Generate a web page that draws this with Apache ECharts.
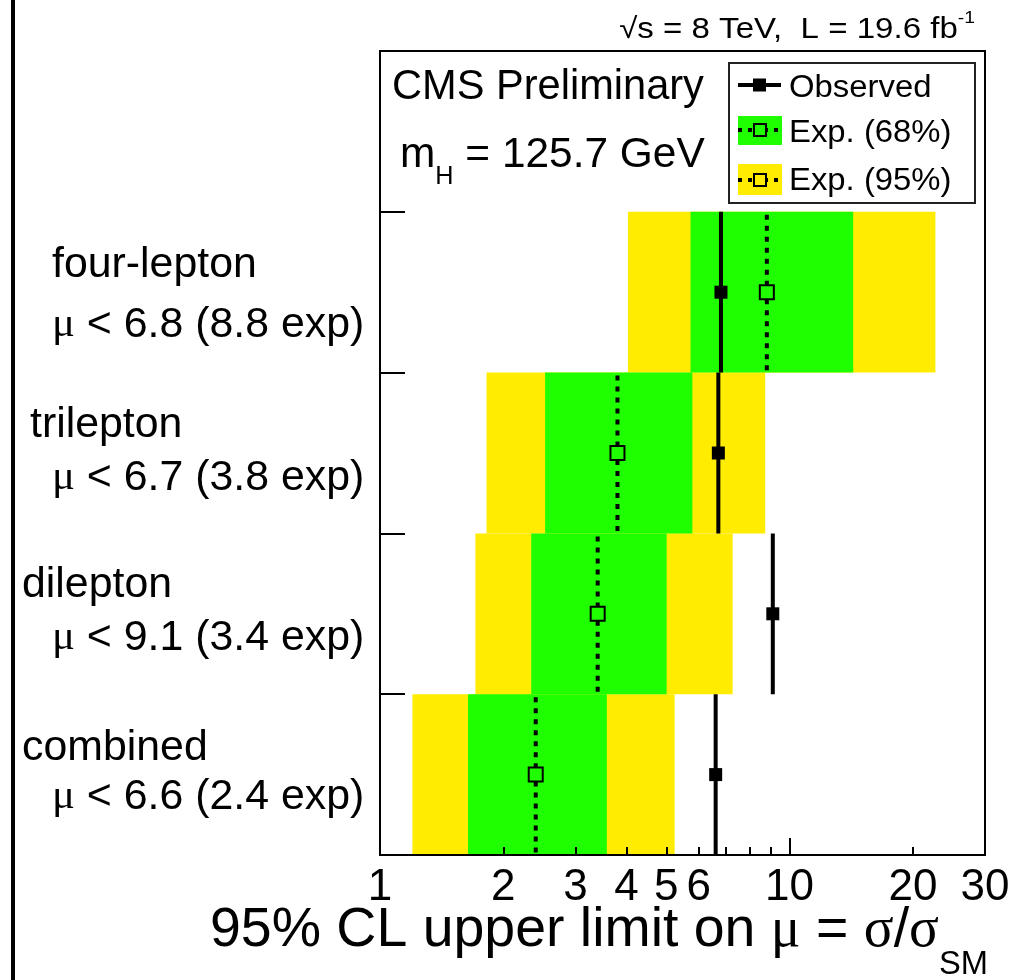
<!DOCTYPE html>
<html>
<head>
<meta charset="utf-8">
<title>95% CL upper limits on mu</title>
<script src="https://cdn.jsdelivr.net/npm/echarts@6/dist/echarts.min.js"></script>
<style>
  html, body { margin: 0; padding: 0; background: #fff; }
  #chart { width: 1027px; height: 980px; }
</style>
</head>
<body>
<div id="chart"></div>
<script>
// channels, top to bottom
const channels = ['four-lepton', 'trilepton', 'dilepton', 'combined'];
const observed = [6.8, 6.7, 9.1, 6.6];
const expected = [8.8, 3.8, 3.4, 2.4];
const exp68Lo = [5.73, 2.53, 2.34, 1.64];
const exp68Hi = [14.3, 5.79, 5.01, 3.58];
const exp95Lo = [4.03, 1.82, 1.71, 1.2];
const exp95Hi = [22.7, 8.72, 7.26, 5.24];
// x axis ticks
const xTickLabels = [1, 2, 3, 4, 5, 6, 10, 20, 30];
const xMinorTicks = [1, 2, 3, 4, 5, 6, 7, 8, 9, 10, 20, 30];
const xMajorTicks = [1, 10];

const YELLOW = '#ffec00';
const GREEN = '#20ff00';
const FONT = 'Liberation Sans, Arial, Helvetica, sans-serif';
const SERIF = 'Liberation Serif, Times New Roman, serif';

// left labels layout
const nameX = [52, 30, 22, 22];
const nameY = [265, 425, 585, 748];
const muY = [325, 478, 638, 797];

function rowOf(i) {
  return channels.length - 1 - i;
}

const band95 = channels.map((c, i) => [exp95Lo[i], exp95Hi[i], rowOf(i)]);
const band68 = channels.map((c, i) => [exp68Lo[i], exp68Hi[i], rowOf(i)]);
const expData = channels.map((c, i) => [expected[i], rowOf(i)]);
const obsData = channels.map((c, i) => [observed[i], rowOf(i)]);

function bandRenderer(color) {
  return function (params, api) {
    const row = api.value(2);
    const p0 = api.coord([api.value(0), row + 1]);
    const p1 = api.coord([api.value(1), row]);
    return {
      type: 'rect',
      shape: { x: p0[0], y: p0[1], width: p1[0] - p0[0], height: p1[1] - p0[1] },
      style: { fill: color }
    };
  };
}

function expectedRenderer(params, api) {
  const v = api.value(0), row = api.value(1);
  const top = api.coord([v, row + 1]);
  const mid = api.coord([v, row + 0.5]);
  const bot = api.coord([v, row]);
  const h = 7;
  const dash = { stroke: '#000', lineWidth: 4, lineDash: [5, 6] };
  return {
    type: 'group',
    children: [
      { type: 'line', shape: { x1: top[0], y1: top[1] + 3, x2: mid[0], y2: mid[1] - h }, style: dash },
      { type: 'line', shape: { x1: mid[0], y1: mid[1] + h, x2: bot[0], y2: bot[1] }, style: dash },
      { type: 'rect', shape: { x: mid[0] - h, y: mid[1] - h, width: 2 * h, height: 2 * h },
        style: { fill: 'none', stroke: '#000', lineWidth: 2 } }
    ]
  };
}

function observedRenderer(params, api) {
  const v = api.value(0), row = api.value(1);
  const top = api.coord([v, row + 1]);
  const mid = api.coord([v, row + 0.5]);
  const bot = api.coord([v, row]);
  return {
    type: 'group',
    children: [
      { type: 'line', shape: { x1: top[0], y1: top[1], x2: bot[0], y2: bot[1] },
        style: { stroke: '#000', lineWidth: 4 } },
      { type: 'rect', shape: { x: mid[0] - 6.5, y: mid[1] - 6.5, width: 13, height: 13 },
        style: { fill: '#000' } }
    ]
  };
}

// text element, sx = horizontal stretch of the original lettering
function txt(x, y, text, size, align, sx, extra) {
  return {
    type: 'text', x: x, y: y, scaleX: sx, z: 100,
    style: Object.assign({
      text: text, fontSize: size, fontFamily: FONT, fill: '#000',
      align: align, textAlign: align,
      verticalAlign: 'middle', textVerticalAlign: 'middle'
    }, extra || {})
  };
}

const graphics = [];
// black bar on the left edge
graphics.push({ type: 'rect', shape: { x: 11, y: 0, width: 4, height: 980 }, style: { fill: '#000' } });

graphics.push(txt(975, 30, '√s = 8 TeV,  L = 19.6 fb{sup|-1}', 29, 'right', 1.14, {
  lineHeight: 40,
  rich: { sup: { fontSize: 17, fontFamily: FONT, lineHeight: 18, verticalAlign: 'top' } }
}));
graphics.push(txt(392, 87, 'CMS Preliminary', 42, 'left', 0.99));
graphics.push(txt(400, 155, 'm{sub|H} = 125.7 GeV', 42, 'left', 1.01, {
  lineHeight: 70,
  rich: { sub: { fontSize: 25, fontFamily: FONT, lineHeight: 33, verticalAlign: 'bottom' } }
}));

channels.forEach((c, i) => {
  graphics.push(txt(nameX[i], nameY[i], c, 42, 'left', 1.02));
  graphics.push(txt(52, muY[i], '{g|μ} < ' + observed[i].toFixed(1) + ' (' + expected[i].toFixed(1) + ' exp)', 42, 'left', 1.02, {
    rich: { g: { fontFamily: SERIF, fontSize: 42 } }
  }));
});

graphics.push(txt(210, 931, '95% CL upper limit on {g|μ} = {g|σ}/{g|σ}{sub|SM}', 56, 'left', 0.99, {
  lineHeight: 100,
  rich: {
    g: { fontFamily: SERIF, fontSize: 56, lineHeight: 100 },
    sub: { fontSize: 33, fontFamily: FONT, lineHeight: 36, verticalAlign: 'bottom' }
  }
}));

// legend
graphics.push({ type: 'rect', z: 90, shape: { x: 729, y: 63, width: 246, height: 140 },
  style: { fill: '#fff', stroke: '#222', lineWidth: 2 } });
graphics.push({ type: 'line', z: 91, shape: { x1: 738, y1: 85, x2: 781, y2: 85 }, style: { stroke: '#000', lineWidth: 4 } });
graphics.push({ type: 'rect', z: 92, shape: { x: 753, y: 78.5, width: 13, height: 13 }, style: { fill: '#000' } });
[[130, 116, 29, GREEN], [180, 164, 31, YELLOW]].forEach(function (e) {
  const cy = e[0];
  graphics.push({ type: 'rect', z: 91, shape: { x: 738, y: e[1], width: 44, height: e[2] }, style: { fill: e[3] } });
  graphics.push({ type: 'line', z: 92, shape: { x1: 738, y1: cy, x2: 753, y2: cy }, style: { stroke: '#000', lineWidth: 4, lineDash: [4, 6] } });
  graphics.push({ type: 'line', z: 92, shape: { x1: 767, y1: cy, x2: 782, y2: cy }, style: { stroke: '#000', lineWidth: 4, lineDash: [4, 6], lineDashOffset: 3 } });
  graphics.push({ type: 'rect', z: 92, shape: { x: 754, y: cy - 6, width: 12, height: 12 }, style: { fill: 'none', stroke: '#000', lineWidth: 2 } });
});
graphics.push(txt(789, 88, 'Observed', 31, 'left', 1.06));
graphics.push(txt(789, 133, 'Exp. (68%)', 31, 'left', 1.06));
graphics.push(txt(789, 181, 'Exp. (95%)', 31, 'left', 1.06));

const axisLineStyle = { color: '#000', width: 2 };

const myChart = echarts.init(document.getElementById('chart'));
myChart.setOption({
  animation: false,
  backgroundColor: '#fff',
  grid: {
    left: 380, top: 51, right: 42, bottom: 125,
    show: true, borderColor: '#000', borderWidth: 2, backgroundColor: 'transparent',
    containLabel: false, outerBoundsMode: 'none'
  },
  xAxis: [
    {
      type: 'log', logBase: 10, min: 1, max: 30, z: 10,
      axisLine: { lineStyle: axisLineStyle },
      axisTick: { inside: true, length: 8, customValues: xMinorTicks, lineStyle: axisLineStyle },
      axisLabel: {
        customValues: xTickLabels,
        formatter: v => String(Math.round(v)),
        fontSize: 44, fontFamily: FONT, color: '#000', margin: 11
      },
      splitLine: { show: false },
      minorTick: { show: false }
    },
    {
      type: 'log', logBase: 10, min: 1, max: 30, z: 10, position: 'bottom',
      axisLine: { show: false },
      axisTick: { inside: true, length: 17, customValues: xMajorTicks, lineStyle: axisLineStyle },
      axisLabel: { show: false },
      splitLine: { show: false }
    }
  ],
  yAxis: {
    type: 'value', min: 0, max: 5, interval: 1, z: 10,
    axisLine: { lineStyle: axisLineStyle },
    axisTick: { inside: true, length: 25, lineStyle: axisLineStyle },
    axisLabel: { show: false },
    splitLine: { show: false }
  },
  series: [
    { type: 'custom', name: 'Exp. (95%)', encode: { x: [0, 1], y: 2 }, data: band95, renderItem: bandRenderer(YELLOW) },
    { type: 'custom', name: 'Exp. (68%)', encode: { x: [0, 1], y: 2 }, data: band68, renderItem: bandRenderer(GREEN) },
    { type: 'custom', name: 'Expected', encode: { x: 0, y: 1 }, data: expData, renderItem: expectedRenderer },
    { type: 'custom', name: 'Observed', encode: { x: 0, y: 1 }, data: obsData, renderItem: observedRenderer }
  ],
  graphic: graphics
});
</script>
</body>
</html>
